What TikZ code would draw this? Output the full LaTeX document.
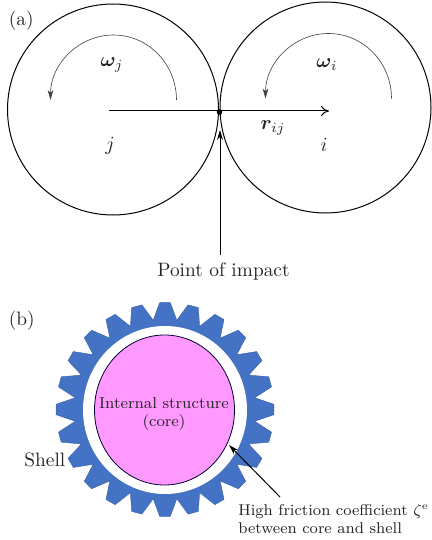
\documentclass[tikz,border=0pt]{standalone}
\usepackage{bm}
\usetikzlibrary{arrows.meta,shapes.geometric}
\definecolor{shellblue}{HTML}{4472C4}
\definecolor{coremag}{HTML}{FF99FF}
\tikzset{
  x=0.5pt,y=-0.5pt,
  ball/.style={draw=black,line width=0.5pt},
  spin/.style={draw=black!75,line width=0.3pt,-{Stealth[length=5pt,width=2.8pt,inset=1.5pt]}},
  axis/.style={draw=black,line width=0.5pt,-{To[length=4pt,width=5pt]}},
  pointer/.style={draw=black,line width=0.5pt,-{Stealth[length=5pt,width=3pt]}},
  lab/.style={inner sep=0pt,text=black!85,font=\fontsize{9.7}{11.6}\selectfont},
  smalllab/.style={inner sep=0pt,text=black!85,font=\fontsize{7.8}{9.4}\selectfont,align=left},
  corelab/.style={inner sep=0pt,text=black!85,font=\fontsize{7.9}{9.4}\selectfont,align=center},
}
\begin{document}
\begin{tikzpicture}
\useasboundingbox (0,0) rectangle (432,540);
% panel a
\node[lab,anchor=base west] (la) at (8.5,25.5) {(a)};
\coordinate (cj) at (113,109.5);
\coordinate (ci) at (325.5,107.5);
\draw[ball] (cj) circle [radius=105.5];
\draw[ball] (ci) circle [radius=105.5];
\draw[spin] (176.5,100) arc [start angle=0,end angle=180,x radius=63,y radius=-65];
\draw[spin] (391.5,98.5) arc [start angle=0,end angle=180,x radius=63,y radius=-65];
\node[lab] (wj) at (112,65) {$\bm{\omega}_j$};
\node[lab] (wi) at (327,65) {$\bm{\omega}_i$};
\coordinate (rs) at (109,111);
\coordinate (re) at (329,111);
\draw[axis] (rs) -- (re);
\node[circle,fill=black,inner sep=0pt,minimum size=2.8pt] (imp) at (219.5,112) {};
\node[lab] (rij) at (273,128) {$\bm{r}_{ij}$};
\node[lab] (j) at (110,146) {$j$};
\node[lab] (i) at (324,145) {$i$};
\node[lab,anchor=base] (poi) at (223.5,276) {Point of impact};
\coordinate (pt) at (220,255);
\draw[pointer] (pt) -- (220,130);
% panel b
\node[lab,anchor=base west] (lb) at (8.5,325) {(b)};
\begin{scope}[shift={(165,409.5)}]
\filldraw[fill=shellblue,draw=shellblue!85!black,line width=0.2pt,line join=round]
  (-7.5:90.5 and 90)
  \foreach \k [evaluate=\k as \a using \k*15] in {0,...,23}{
    -- (\a-2.8:109 and 107) -- (\a+2.8:109 and 107) -- (\a+7.5:90.5 and 90)
  } -- cycle;
\end{scope}
\fill[white] (165,410) ellipse [x radius=82,y radius=84];
\node[ellipse,draw=black!80!blue,fill=coremag,line width=0.4pt,inner sep=0pt,minimum width=70pt,minimum height=75pt] (core) at (164.5,410) {};
\node[corelab] (corel) at (164,414) {Internal structure\\(core)};
\node[lab,anchor=base west] (shell) at (24,466.5) {Shell};
\node[smalllab,anchor=north west] (hf) at (238,503.5) {High friction coefficient $\zeta^{\mathrm{e}}$\\between core and shell};
\coordinate (hs) at (280,497);
\coordinate (he) at (229,445);
\draw[pointer] (hs) -- (he);
\end{tikzpicture}
\end{document}
